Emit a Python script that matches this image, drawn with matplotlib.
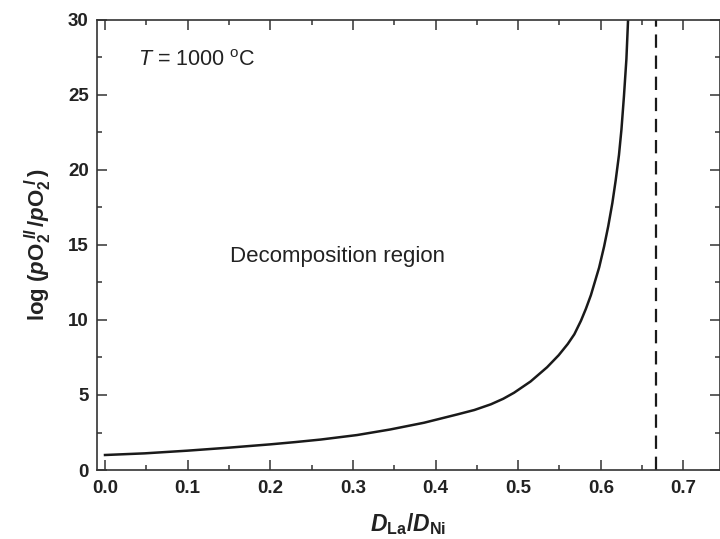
import matplotlib
matplotlib.use("Agg")
import matplotlib.pyplot as plt
from matplotlib.ticker import MultipleLocator, FormatStrFormatter

plt.rcParams['font.family'] = ['Liberation Sans', 'DejaVu Sans']
plt.rcParams['mathtext.fontset'] = 'custom'
plt.rcParams['mathtext.rm'] = 'Liberation Sans'
plt.rcParams['mathtext.it'] = 'Liberation Sans:italic'
plt.rcParams['mathtext.bf'] = 'Liberation Sans:bold'
plt.rcParams['mathtext.bfit'] = 'Liberation Sans:italic:bold'

# stability limit curve at 1000 C
d_ratio = [0.0, 0.048, 0.10, 0.15, 0.20, 0.23, 0.261, 0.305, 0.345, 0.386,
           0.426, 0.447, 0.467, 0.482, 0.495, 0.515, 0.535, 0.549, 0.560,
           0.568, 0.576, 0.582, 0.588, 0.598, 0.604, 0.609, 0.614, 0.618,
           0.622, 0.625, 0.628, 0.631, 0.633]
log_po2 = [1.0, 1.11, 1.29, 1.49, 1.71, 1.86, 2.03, 2.33, 2.7, 3.15,
           3.7, 4.0, 4.38, 4.75, 5.15, 5.9, 6.85, 7.65, 8.4,
           9.05, 9.95, 10.75, 11.65, 13.5, 14.9, 16.25, 17.8, 19.3,
           21.0, 22.7, 24.9, 27.4, 30.0]
d_limit = 2 / 3

fig = plt.figure(figsize=(7.2, 5.39), dpi=100)
ax = fig.add_axes([0.1347, 0.128, 0.865, 0.835])

ax.plot(d_ratio, log_po2, color='#1a1a1a', lw=1.8, solid_joinstyle='round')
ax.axvline(d_limit, color='#1a1a1a', lw=1.6, ls=(0, (6, 3.5)))

ax.set_xlim(-0.0097, 0.744)
ax.set_ylim(0, 30)
ax.xaxis.set_major_locator(MultipleLocator(0.1))
ax.xaxis.set_minor_locator(MultipleLocator(0.05))
ax.yaxis.set_major_locator(MultipleLocator(5))
ax.yaxis.set_minor_locator(MultipleLocator(2.5))
ax.xaxis.set_major_formatter(FormatStrFormatter('%.1f'))

ax.tick_params(which='both', direction='in', top=True, right=True,
               width=1.1, color='#333333')
ax.tick_params(which='major', length=7)
ax.tick_params(which='minor', length=3.5)
ax.tick_params(axis='x', which='major', pad=7)
ax.tick_params(axis='y', which='major', pad=6)
for lab in ax.get_xticklabels() + ax.get_yticklabels():
    lab.set_fontsize(13.5)
    lab.set_fontweight('bold')
    lab.set_color('#222222')
for sp in ax.spines.values():
    sp.set_linewidth(1.2)
    sp.set_color('#333333')

ax.set_xlabel(r'$\mathbfit{D}_{\mathbf{La}}\mathbf{/}\mathbfit{D}_{\mathbf{Ni}}$',
              fontsize=16.5, labelpad=10, color='#222222')
ax.set_ylabel(r'$\mathbf{log\ (}\mathbfit{p}\mathbf{O}_{\mathbf{2}}^{\ \mathbfit{II}}'
              r'\mathbf{\,/}\mathbfit{p}\mathbf{O}_{\mathbf{2}}^{\ \mathbfit{I}}\mathbf{\,)}$',
              fontsize=16, labelpad=10, color='#222222')

ax.text(0.04, 27.3, r'$T$ = 1000 $^{\mathrm{o}}$C', fontsize=15.5, color='#222222',
        va='center')
ax.text(0.151, 14.2, 'Decomposition region', fontsize=16, color='#222222',
        va='center')

fig.savefig('out.png', dpi=100)
